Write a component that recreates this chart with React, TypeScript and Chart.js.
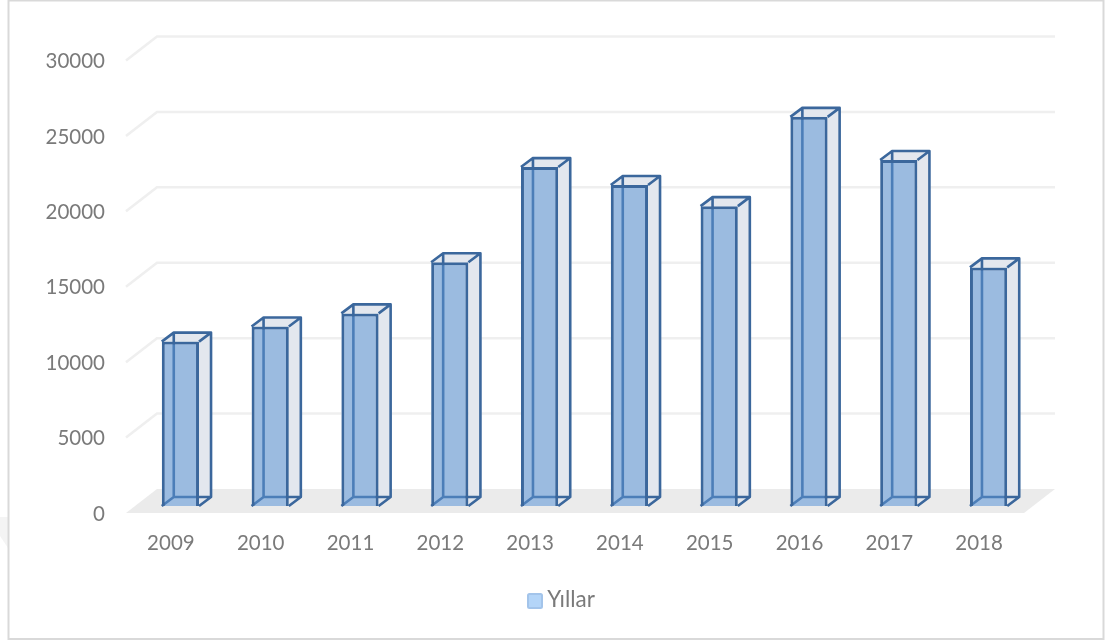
import React, { useEffect, useRef } from "react";
import { Chart, registerables } from "chart.js";

Chart.register(...registerables);

const categories = ["2009", "2010", "2011", "2012", "2013", "2014", "2015", "2016", "2017", "2018"];
const values = [10900, 11900, 12770, 16160, 22470, 21280, 19880, 25800, 22940, 15820];
const seriesName = "Yıllar";
const yMax = 30000;
const yStep = 5000;

const FONT = "Lato, sans-serif";
const TEXT = "#7a7a7a";
const EDGE = "#3b679c";
const FRONT_FILL = "rgba(88,142,203,0.6)";
const SIDE_FILL = "#e3e7ee";

// 3D projection offsets, in px, relative to the front plane of the axes
const WALL = { dx: 31, dy: -24 };
const BAR_FRONT = { dx: 9.5, dy: -7 };
const BAR_BACK = { dx: 21.5, dy: -16 };

const scene = {
  id: "scene",
  beforeDraw(chart: any) {
    const { ctx, scales } = chart;
    const y = scales.y;
    const { left, right } = chart.chartArea;
    ctx.save();
    ctx.fillStyle = "#ffffff";
    ctx.fillRect(0, 0, chart.width, chart.height);
    // faint smudge left of the frame
    ctx.fillStyle = "#f4f4f4";
    ctx.beginPath();
    ctx.moveTo(0, 517);
    ctx.lineTo(8, 517);
    ctx.lineTo(8, 548);
    ctx.lineTo(0, 536);
    ctx.closePath();
    ctx.fill();
    // frame
    ctx.strokeStyle = "#d9d9d9";
    ctx.lineWidth = 2;
    ctx.strokeRect(8.5, 0.5, 1095, 638.5);
    // floor
    const y0 = y.getPixelForValue(0);
    ctx.fillStyle = "#ebebeb";
    ctx.beginPath();
    ctx.moveTo(left, y0);
    ctx.lineTo(left + WALL.dx, y0 + WALL.dy);
    ctx.lineTo(right + WALL.dx, y0 + WALL.dy);
    ctx.lineTo(right, y0);
    ctx.closePath();
    ctx.fill();
    // wall grid
    ctx.strokeStyle = "#efefef";
    ctx.lineWidth = 2.5;
    y.ticks.forEach((t: any) => {
      if (t.value === 0) return;
      const py = y.getPixelForValue(t.value);
      ctx.beginPath();
      ctx.moveTo(left, py);
      ctx.lineTo(left + WALL.dx, py + WALL.dy);
      ctx.lineTo(right + WALL.dx, py + WALL.dy);
      ctx.stroke();
    });
    ctx.restore();
  },
  afterLayout(chart: any) {
    // centre the legend on the whole frame rather than on the padded box
    const lg = chart.legend;
    lg.left = 24;
    lg.right = 1105;
  },
  beforeDatasetDraw(chart: any, args: any) {
    const { ctx } = chart;
    const meta = chart.getDatasetMeta(args.index);
    ctx.save();
    ctx.lineJoin = "round";
    meta.data.forEach((bar: any) => {
      const l = bar.x - bar.width / 2 + BAR_BACK.dx;
      const r = l + bar.width;
      const t = bar.y + BAR_BACK.dy;
      const b = bar.base + BAR_BACK.dy;
      const fl = bar.x - bar.width / 2 + BAR_FRONT.dx;
      const fr = fl + bar.width;
      const ft = bar.y + BAR_FRONT.dy;
      const fb = bar.base + BAR_FRONT.dy;
      // solid ground for the translucent front
      ctx.fillStyle = "#ffffff";
      ctx.fillRect(fl, ft, bar.width, fb - ft);
      ctx.fillStyle = SIDE_FILL;
      // right side
      ctx.beginPath();
      ctx.moveTo(fr, ft);
      ctx.lineTo(r, t);
      ctx.lineTo(r, b);
      ctx.lineTo(fr, fb);
      ctx.closePath();
      ctx.fill();
      // top opening
      ctx.beginPath();
      ctx.moveTo(fl, ft);
      ctx.lineTo(l, t);
      ctx.lineTo(r, t);
      ctx.lineTo(fr, ft);
      ctx.closePath();
      ctx.fill();
      // hidden edges and outline
      ctx.strokeStyle = EDGE;
      ctx.lineWidth = 2.6;
      ctx.beginPath();
      ctx.moveTo(l, b);
      ctx.lineTo(l, t);
      ctx.lineTo(r, t);
      ctx.lineTo(r, b);
      ctx.lineTo(l, b);
      ctx.moveTo(fl, fb);
      ctx.lineTo(l, b);
      ctx.moveTo(fr, fb);
      ctx.lineTo(r, b);
      ctx.moveTo(fl, ft);
      ctx.lineTo(l, t);
      ctx.moveTo(fr, ft);
      ctx.lineTo(r, t);
      ctx.stroke();
    });
    ctx.restore();
    ctx.save();
    ctx.translate(BAR_FRONT.dx, BAR_FRONT.dy);
  },
  afterDatasetDraw(chart: any) {
    chart.ctx.restore();
  },
  afterDraw(chart: any) {
    // legend swatch, closer to its label than the library's fixed gap allows
    const { ctx } = chart;
    ctx.save();
    ctx.fillStyle = "#b4d5f8";
    ctx.strokeStyle = "#a3c4ea";
    ctx.lineWidth = 2;
    ctx.beginPath();
    ctx.roundRect(528, 594, 14, 14, 1.5);
    ctx.fill();
    ctx.stroke();
    ctx.restore();
  },
};

export default function App() {
  const ref = useRef<HTMLCanvasElement>(null);
  useEffect(() => {
    const chart = new Chart(ref.current as HTMLCanvasElement, {
      type: "bar",
      data: {
        labels: categories,
        datasets: [
          {
            label: seriesName,
            data: values,
            backgroundColor: FRONT_FILL,
            borderColor: EDGE,
            borderWidth: 3,
            barPercentage: 0.415,
            categoryPercentage: 1,
            clip: false,
          } as any,
        ],
      },
      options: {
        responsive: false,
        animation: false,
        devicePixelRatio: 1,
        layout: { padding: { top: 60.5, right: 81, left: 0, bottom: 20 } },
        plugins: {
          tooltip: { enabled: false },
          legend: {
            position: "bottom",
            labels: {
              font: { family: FONT, size: 22.5 },
              color: TEXT,
              boxWidth: 2,
              boxHeight: 2,
              padding: 8,
              generateLabels: () => [
                {
                  text: seriesName,
                  fillStyle: "rgba(0,0,0,0)",
                  strokeStyle: "rgba(0,0,0,0)",
                  lineWidth: 0,
                  fontColor: TEXT,
                  datasetIndex: 0,
                } as any,
              ],
            },
          },
        },
        scales: {
          x: {
            grid: { display: false, drawTicks: false },
            border: { display: false },
            ticks: { color: TEXT, font: { family: FONT, size: 20.5 }, padding: 18, maxRotation: 0 },
            afterFit: (s: any) => {
              s.height = 67.5;
            },
          },
          y: {
            min: 0,
            max: yMax,
            grid: { display: false, drawTicks: false },
            border: { display: false },
            ticks: {
              stepSize: yStep,
              color: TEXT,
              font: { family: FONT, size: 20.5 },
              padding: 21,
              labelOffset: 1,
              callback: (v: any) => String(v),
            },
            afterFit: (s: any) => {
              s.width = 126;
            },
          },
        },
      },
      plugins: [scene],
    } as any);
    return () => chart.destroy();
  }, []);
  return (
    <div style={{ position: "absolute", left: 0, top: 0, width: 1105, height: 641, overflow: "hidden" }}>
      <canvas ref={ref} width={1105} height={641} style={{ display: "block" }} />
    </div>
  );
}
